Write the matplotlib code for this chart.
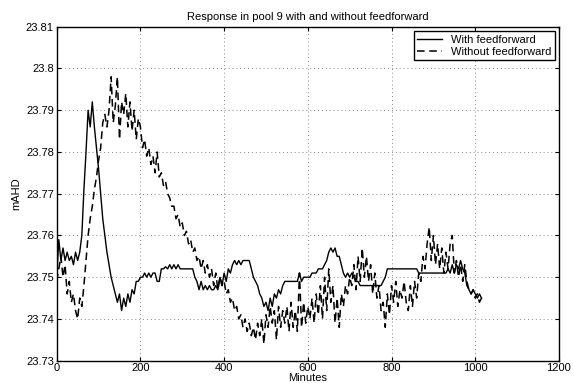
import numpy as np
import matplotlib
matplotlib.use('Agg')
import matplotlib.pyplot as plt

# DATA (5 minute steps)
minutes = np.arange(0, 1020, 5)

with_ff = [
    23.750, 23.759, 23.754, 23.757, 23.754, 23.756, 23.754, 23.755, 23.753, 23.756,  # 0-45
    23.754, 23.756, 23.760, 23.771, 23.780, 23.790, 23.786, 23.792, 23.786, 23.781,  # 50-95
    23.776, 23.770, 23.764, 23.760, 23.756, 23.753, 23.750, 23.748, 23.746, 23.744,  # 100-145
    23.746, 23.742, 23.745, 23.743, 23.746, 23.744, 23.747, 23.746, 23.749, 23.749,  # 150-195
    23.750, 23.750, 23.751, 23.750, 23.751, 23.750, 23.751, 23.751, 23.749, 23.749,  # 200-245
    23.752, 23.752, 23.7525, 23.752, 23.753, 23.752, 23.753, 23.752, 23.753, 23.752,  # 250-295
    23.752, 23.752, 23.752, 23.752, 23.752, 23.752, 23.750, 23.749, 23.747, 23.749,  # 300-345
    23.747, 23.748, 23.747, 23.748, 23.747, 23.747, 23.748, 23.747, 23.750, 23.748,  # 350-395
    23.751, 23.749, 23.752, 23.751, 23.753, 23.754, 23.753, 23.754, 23.753, 23.754,  # 400-445
    23.754, 23.754, 23.754, 23.752, 23.750, 23.749, 23.748, 23.746, 23.745, 23.743,  # 450-495
    23.744, 23.742, 23.745, 23.743, 23.746, 23.745, 23.747, 23.746, 23.748, 23.749,  # 500-545
    23.749, 23.749, 23.749, 23.749, 23.749, 23.749, 23.751, 23.749, 23.750, 23.750,  # 550-595
    23.750, 23.750, 23.751, 23.751, 23.751, 23.752, 23.752, 23.752, 23.753, 23.754,  # 600-645
    23.756, 23.757, 23.756, 23.757, 23.755, 23.755, 23.753, 23.751, 23.750, 23.751,  # 650-695
    23.750, 23.751, 23.750, 23.749, 23.749, 23.748, 23.748, 23.748, 23.748, 23.748,  # 700-745
    23.748, 23.748, 23.748, 23.748, 23.748, 23.748, 23.749, 23.750, 23.752, 23.752,  # 750-795
    23.752, 23.752, 23.752, 23.752, 23.752, 23.752, 23.752, 23.752, 23.752, 23.752,  # 800-845
    23.752, 23.752, 23.752, 23.751, 23.751, 23.751, 23.751, 23.751, 23.751, 23.751,  # 850-895
    23.751, 23.751, 23.751, 23.751, 23.751, 23.751, 23.751, 23.752, 23.751, 23.753,  # 900-945
    23.751, 23.753, 23.752, 23.754, 23.752, 23.751, 23.748, 23.747, 23.746, 23.747,  # 950-995
    23.746, 23.745, 23.746, 23.745,                                                  # 1000-1015
]

without_ff = [
    23.749, 23.752, 23.755, 23.750, 23.753, 23.746, 23.749, 23.744, 23.746, 23.742,  # 0-45
    23.740, 23.745, 23.743, 23.748, 23.754, 23.760, 23.764, 23.767, 23.771, 23.774,  # 50-95
    23.778, 23.781, 23.787, 23.789, 23.786, 23.790, 23.798, 23.787, 23.791, 23.798,  # 100-145
    23.783, 23.792, 23.789, 23.794, 23.786, 23.792, 23.785, 23.790, 23.783, 23.788,  # 150-195
    23.786, 23.781, 23.783, 23.779, 23.781, 23.777, 23.779, 23.775, 23.780, 23.774,  # 200-245
    23.775, 23.772, 23.773, 23.770, 23.769, 23.767, 23.767, 23.764, 23.765, 23.762,  # 250-295
    23.763, 23.760, 23.761, 23.758, 23.759, 23.756, 23.757, 23.754, 23.755, 23.752,  # 300-345
    23.754, 23.751, 23.753, 23.750, 23.752, 23.748, 23.751, 23.747, 23.750, 23.748,  # 350-395
    23.749, 23.746, 23.747, 23.744, 23.745, 23.742, 23.743, 23.740, 23.741, 23.738,  # 400-445
    23.740, 23.737, 23.739, 23.736, 23.738, 23.735, 23.739, 23.736, 23.740, 23.734,  # 450-495
    23.741, 23.738, 23.743, 23.739, 23.742, 23.735, 23.743, 23.738, 23.742, 23.739,  # 500-545
    23.743, 23.737, 23.744, 23.738, 23.742, 23.737, 23.751, 23.738, 23.744, 23.739,  # 550-595
    23.743, 23.740, 23.745, 23.739, 23.746, 23.741, 23.748, 23.740, 23.750, 23.742,  # 600-645
    23.752, 23.744, 23.748, 23.739, 23.745, 23.738, 23.746, 23.743, 23.748, 23.746,  # 650-695
    23.750, 23.748, 23.753, 23.747, 23.755, 23.749, 23.757, 23.750, 23.755, 23.749,  # 700-745
    23.753, 23.746, 23.751, 23.745, 23.748, 23.742, 23.744, 23.738, 23.746, 23.741,  # 750-795
    23.748, 23.744, 23.749, 23.743, 23.747, 23.745, 23.749, 23.744, 23.742, 23.748,  # 800-845
    23.743, 23.749, 23.745, 23.751, 23.749, 23.755, 23.752, 23.758, 23.762, 23.754,  # 850-895
    23.760, 23.753, 23.758, 23.752, 23.757, 23.751, 23.756, 23.752, 23.758, 23.760,  # 900-945
    23.751, 23.754, 23.750, 23.753, 23.749, 23.753, 23.749, 23.747, 23.746, 23.747,  # 950-995
    23.745, 23.746, 23.744, 23.745,                                                  # 1000-1015
]

x_ticks = [0, 200, 400, 600, 800, 1000, 1200]
y_ticks = [23.73, 23.74, 23.75, 23.76, 23.77, 23.78, 23.79, 23.80, 23.81]
y_ticklabels = ['23.73', '23.74', '23.75', '23.76', '23.77', '23.78', '23.79', '23.8', '23.81']

# PLOT CONFIG
plt.rcParams['font.family'] = ['Liberation Sans', 'DejaVu Sans']
plt.rcParams['font.size'] = 8

fig = plt.figure(figsize=(5.74, 3.83), dpi=100)
ax = fig.add_axes([0.0988, 0.0582, 0.875, 0.872])

ax.plot(minutes, with_ff, color='black', linewidth=1.0, linestyle='-', label='With feedforward')
ax.plot(minutes, without_ff, color='black', linewidth=1.1, linestyle=(0, (5, 3)), label='Without feedforward')

ax.set_xlim(0, 1200)
ax.set_ylim(23.73, 23.81)
ax.set_xticks(x_ticks)
ax.set_yticks(y_ticks)
ax.set_yticklabels(y_ticklabels)
ax.tick_params(direction='in', top=True, right=True, length=3, width=0.8, pad=2)
ax.grid(True, linestyle=(0, (1, 3)), color='#888888', linewidth=0.7)
for s in ax.spines.values():
    s.set_linewidth(1.0)

ax.set_title('Response in pool 9 with and without feedforward', fontsize=8, pad=5)
ax.set_xlabel('Minutes', labelpad=0)
ax.set_ylabel('mAHD', labelpad=3)

leg = ax.legend(loc='upper right', fancybox=False, edgecolor='black', framealpha=1,
                handlelength=2.2, borderpad=0.3, labelspacing=0.2, borderaxespad=0.4)
leg.get_frame().set_linewidth(1.0)

## SAVE FIGURE
fig.savefig('out.png', dpi=100)
